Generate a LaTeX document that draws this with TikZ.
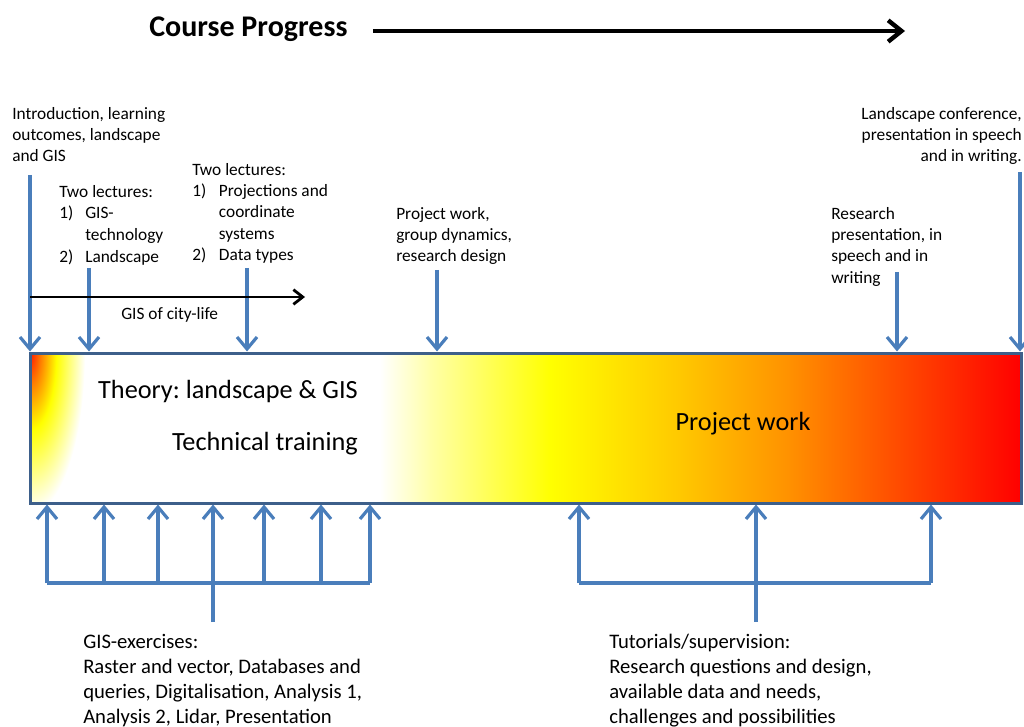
\documentclass[tikz,border=0pt]{standalone}
\usepackage{fontspec}
\setmainfont{Carlito}
\usetikzlibrary{arrows.meta}
\frenchspacing
\definecolor{arrowblue}{HTML}{4A7EBB}
\definecolor{barborder}{HTML}{3D5F8A}
\definecolor{paleyellow}{HTML}{FFFFA8}
\definecolor{goldish}{HTML}{FFC800}
\definecolor{orangeish}{HTML}{FF9000}
\definecolor{redorange}{HTML}{FF5000}
\pgfdeclareradialshading{cornerglow}{\pgfpoint{0bp}{0bp}}{%
  color(0bp)=(red!80!orange); color(5bp)=(orange); color(12bp)=(yellow);
  color(25bp)=(white); color(50bp)=(white)}
\begin{document}
\begin{tikzpicture}[x=0.75pt,y=-0.75pt,
  small/.style={font=\fontsize{13pt}{16pt}\selectfont, align=left, inner sep=0pt},
  big/.style={font=\fontsize{15.5pt}{18.75pt}\selectfont, align=left, inner sep=0pt, anchor=north west},
  inbar/.style={font=\fontsize{19.7pt}{22pt}\selectfont, inner sep=0pt},
  barrow/.style={draw=arrowblue, line width=2.4pt, -{Straight Barb[length=9pt,width=15pt]}},
  bline/.style={draw=arrowblue, line width=2.4pt},
  cityarrow/.style={draw=black, line width=2.1pt, -{Straight Barb[length=7pt,width=11pt]}},
  progarrow/.style={draw=black, line width=3.3pt, -{Straight Barb[length=10pt,width=16pt]}},
  timebar/.style={draw=barborder, line width=2.25pt, minimum width=743.25pt, minimum height=112.5pt, inner sep=0pt}
]
\useasboundingbox (0,0) rectangle (1024,727);

% ---- title and progress arrow
\node[font=\fontsize{22.5pt}{26pt}\selectfont\bfseries, inner sep=0pt, anchor=mid west] (title) at (149,33) {Course Progress};
\coordinate (progend) at (905,31);
\draw[progarrow] ([xshift=18.75pt]title.east |- progend) -- (progend);

% ---- colour ramp of the time bar
\fill[white] (30,353) rectangle (381,503);
\shade[left color=white, right color=paleyellow] (380,353) rectangle (431,503);
\shade[left color=paleyellow, right color=yellow] (430,353) rectangle (551,503);
\shade[left color=yellow, right color=goldish] (550,353) rectangle (681,503);
\shade[left color=goldish, right color=orangeish] (680,353) rectangle (791,503);
\shade[left color=orangeish, right color=redorange] (790,353) rectangle (891,503);
\shade[left color=redorange, right color=red] (890,353) rectangle (1021,503);
\begin{scope}
  \clip (30,353) rectangle (1021,503);
  \shade[shading=cornerglow] (30,353) ellipse [x radius=55, y radius=160];
\end{scope}
\node[timebar] (bar) at (525.5,428) {};

% ---- text inside the bar
\node[inbar, anchor=mid east] (theory) at (358,395) {Theory: landscape \& GIS};
\node[inbar, anchor=mid east] (technical) at (358,447) {Technical training};
\node[inbar, anchor=mid] (projectwork) at (743,427) {Project work};

% ---- labels above the bar
\node[small, anchor=north west] (intro) at (12,107) {Introduction, learning\\outcomes, landscape\\and GIS};
\node[small, anchor=north west, font=\fontsize{13pt}{16.2pt}\selectfont] (lectA) at (59,185) {Two lectures:\\\makebox[19.5pt][l]{1)}GIS-\\\hspace*{19.5pt}technology\\\makebox[19.5pt][l]{2)}Landscape};
\node[small, anchor=north west] (lectB) at (192,163) {Two lectures:\\\makebox[20pt][l]{1)}Projections and\\\hspace*{20pt}coordinate\\\hspace*{20pt}systems\\\makebox[20pt][l]{2)}Data types};
\node[small, anchor=north west] (projdyn) at (396,207) {Project work,\\group dynamics,\\research design};
\node[small, anchor=north west] (research) at (831,207) {Research\\presentation, in\\speech and in\\writing};
\node[small, anchor=north east, align=right] (conf) at (1022,107) {Landscape conference,\\presentation in speech\\and in writing.};
\node[small, anchor=north west] (city) at (121,307) {GIS of city-life};

% ---- arrows into the bar from above
\coordinate (introtop) at (30,175);
\coordinate (lectAtop) at (89,268);
\coordinate (lectBtop) at (247,268);
\coordinate (projtop) at (437,270);
\coordinate (restop) at (897,272);
\coordinate (conftop) at (1020,172);
\foreach \c in {introtop,lectAtop,lectBtop,projtop,restop,conftop}
  \draw[barrow] (\c) -- (\c |- bar.north);

% ---- city-life thread
\coordinate (cityA) at (30,297);
\coordinate (cityB) at (305,297);
\draw[cityarrow] (cityA) -- (cityB);

% ---- GIS exercises feeding the bar from below
\node[big] (exercises) at (83,634) {GIS-exercises:\\Raster and vector, Databases and\\queries, Digitalisation, Analysis 1,\\Analysis 2, Lidar, Presentation};
\coordinate (exfoot) at (213,622);
\coordinate (exrail) at (213,583);
\draw[bline] (exfoot) -- (exrail);
\draw[bline] (47,583) -- (370,583);
\foreach \x in {47,104,158,213,264,321,370}
  \draw[barrow] (\x,583) -- (\x,583 |- bar.south);

% ---- tutorials feeding the bar from below
\node[big] (tutorials) at (609,634) {Tutorials/supervision:\\Research questions and design,\\available data and needs,\\challenges and possibilities};
\coordinate (tutfoot) at (756,622);
\coordinate (tutrail) at (756,583);
\draw[bline] (tutfoot) -- (tutrail);
\draw[bline] (579,583) -- (931,583);
\foreach \x in {579,756,931}
  \draw[barrow] (\x,583) -- (\x,583 |- bar.south);
\end{tikzpicture}
\end{document}
